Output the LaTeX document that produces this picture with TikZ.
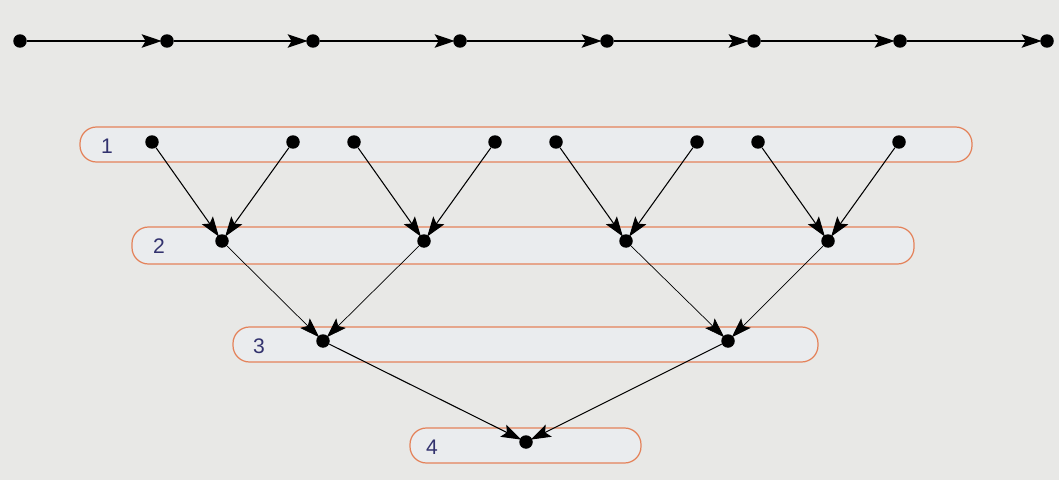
\documentclass[tikz,border=0pt]{standalone}
\usepackage{fontspec}
\setsansfont{Liberation Sans}
\usepackage{xcolor}
\usetikzlibrary{arrows.meta}

\definecolor{bgpaper}{RGB}{232,232,230}
\definecolor{boxline}{RGB}{228,130,90}
\definecolor{boxfill}{RGB}{234,236,238}
\definecolor{lvltext}{RGB}{50,50,110}

\tikzset{
  dot/.style={circle, fill=black, inner sep=0pt, minimum size=0.27cm},
  link/.style={-{Stealth[length=0.4cm,width=0.27cm,inset=0.08cm]}, semithick, shorten >=-1pt},
  level/.style={draw=boxline, fill=boxfill, rounded corners=0.33cm, line width=0.7pt},
  lvlnum/.style={font=\sffamily\large, text=lvltext}
}

\begin{document}
\begin{tikzpicture}[x=0.02cm, y=-0.02cm]
  % Paper background
  \fill[bgpaper] (0,0) rectangle (1059,480);
  \useasboundingbox (0,0) rectangle (1059,480);

  % Level boxes
  \draw[level] (80,127) rectangle (972,162);
  \draw[level] (132,227) rectangle (914,264);
  \draw[level] (233,327) rectangle (818,362);
  \draw[level] (410,428) rectangle (641,463);
  \node[lvlnum] (n1) at (107,146) {1};
  \node[lvlnum] (n2) at (159,246) {2};
  \node[lvlnum] (n3) at (259,346) {3};
  \node[lvlnum] (n4) at (432,447) {4};

  % Top chain
  \node[dot] (t0) at (20,41) {};
  \node[dot] (t1) at (167,41) {};
  \node[dot] (t2) at (313,41) {};
  \node[dot] (t3) at (460,41) {};
  \node[dot] (t4) at (607,41) {};
  \node[dot] (t5) at (754,41) {};
  \node[dot] (t6) at (900,41) {};
  \node[dot] (t7) at (1047,41) {};
  \foreach \i/\j in {0/1,1/2,2/3,3/4,4/5,5/6,6/7}
    \draw[link] (t\i) -- (t\j);

  % Level 1
  \node[dot] (a1) at (152,142) {};
  \node[dot] (a2) at (293,142) {};
  \node[dot] (a3) at (354,142) {};
  \node[dot] (a4) at (495,142) {};
  \node[dot] (a5) at (556,142) {};
  \node[dot] (a6) at (697,142) {};
  \node[dot] (a7) at (758,142) {};
  \node[dot] (a8) at (899,142) {};

  % Level 2
  \node[dot] (b1) at (222,241) {};
  \node[dot] (b2) at (424,241) {};
  \node[dot] (b3) at (626,241) {};
  \node[dot] (b4) at (828,241) {};

  % Level 3
  \node[dot] (c1) at (323,341) {};
  \node[dot] (c2) at (728,341) {};

  % Level 4
  \node[dot] (d1) at (526,442) {};

  % Merges
  \draw[link] (a1) -- (b1);
  \draw[link] (a2) -- (b1);
  \draw[link] (a3) -- (b2);
  \draw[link] (a4) -- (b2);
  \draw[link] (a5) -- (b3);
  \draw[link] (a6) -- (b3);
  \draw[link] (a7) -- (b4);
  \draw[link] (a8) -- (b4);
  \draw[link, thin] (b1) -- (c1);
  \draw[link, thin] (b2) -- (c1);
  \draw[link, thin] (b3) -- (c2);
  \draw[link, thin] (b4) -- (c2);
  \draw[link] (c1) -- (d1);
  \draw[link] (c2) -- (d1);
\end{tikzpicture}
\end{document}
